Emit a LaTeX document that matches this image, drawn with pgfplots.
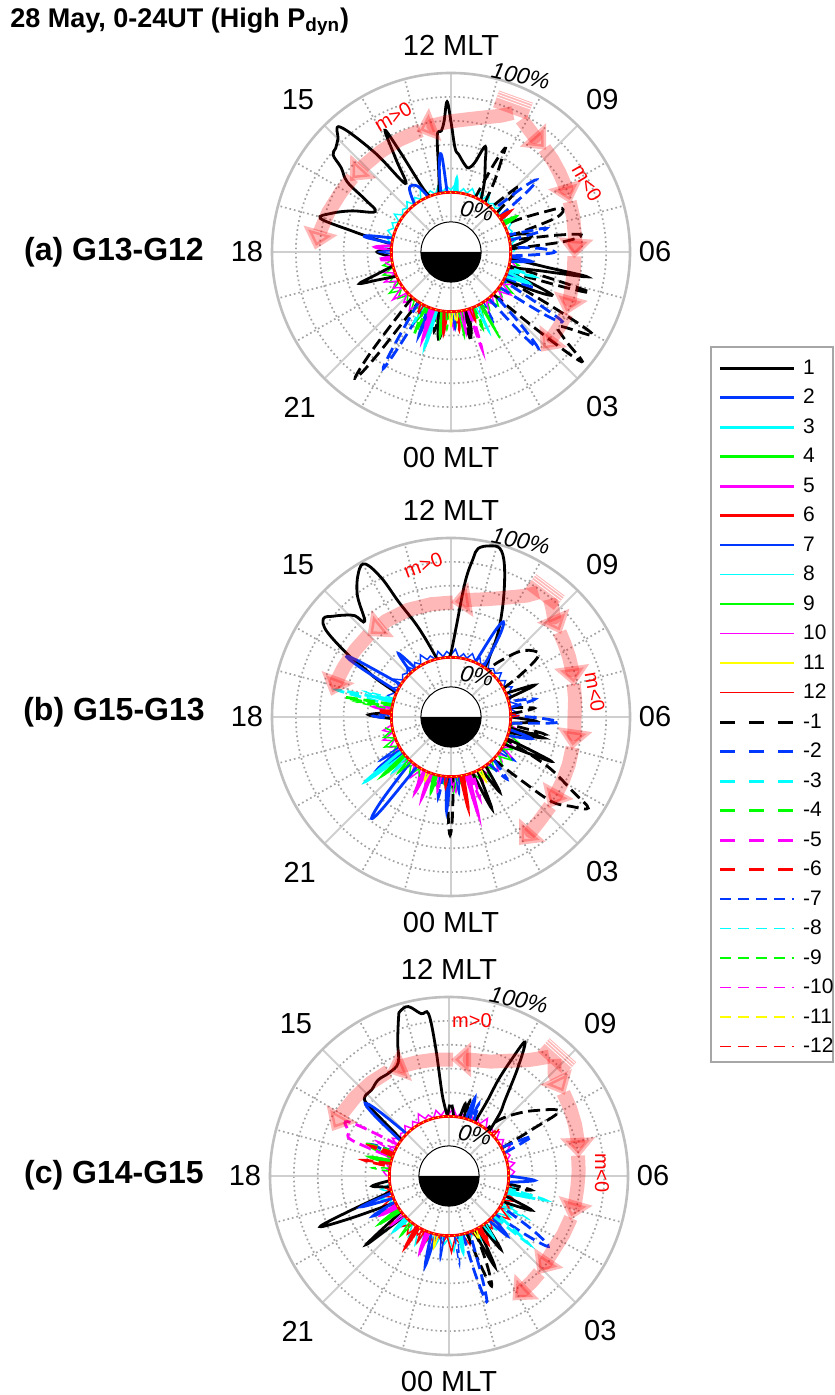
\documentclass[border=0pt]{standalone}
\usepackage{pgfplots}
\pgfplotsset{compat=1.18}
\usepackage{fontspec}
\setmainfont{Liberation Sans}
\usetikzlibrary{arrows.meta}

\definecolor{mblue}{rgb}{0,0.22,1}
\definecolor{mcyan}{rgb}{0,1,1}
\definecolor{mgreen}{rgb}{0,1,0}
\definecolor{mmag}{rgb}{1,0,1}
\definecolor{mred}{rgb}{1,0,0}
\definecolor{myel}{rgb}{1,1,0}

\tikzset{
  thk/.style={line width=1.4pt},
  thn/.style={line width=0.75pt},
  dthk/.style={line width=1.4pt,dash pattern=on 6pt off 2.8pt},
  dthn/.style={line width=0.75pt,dash pattern=on 4.5pt off 2.5pt},
  p1/.style={black,thk}, p2/.style={mblue,thk}, p3/.style={mcyan,thk},
  p4/.style={mgreen,thk}, p5/.style={mmag,thk}, p6/.style={mred,thk},
  p7/.style={mblue,thn}, p8/.style={mcyan,thn}, p9/.style={mgreen,thn},
  p10/.style={mmag,thn}, p11/.style={myel,thn}, p12/.style={mred,thn},
  n1/.style={black,dthk}, n2/.style={mblue,dthk}, n3/.style={mcyan,dthk},
  n4/.style={mgreen,dthk}, n5/.style={mmag,dthk}, n6/.style={mred,dthk},
  n7/.style={mblue,dthn}, n8/.style={mcyan,dthn}, n9/.style={mgreen,dthn},
  n10/.style={mmag,dthn}, n11/.style={myel,dthn}, n12/.style={mred,dthn},
  lgk/.style={dash pattern=on 7.5pt off 7pt},
  lgn/.style={dash pattern=on 5.5pt off 3.5pt},
  arr/.style={draw=red,opacity=0.28,line width=7pt,line join=round,-{Triangle[width=17pt,length=10pt]}},
}
% data are (MLT [h], value [%]); 0% sits on the inner ring, 100% on the outer circle
\pgfplotsset{
  pol/.style={filter point/.code={%
    \pgfmathparse{(\pgfkeysvalueof{/data point/y}+50)/150*cos(15*(\pgfkeysvalueof{/data point/x}-6))}\let\polX\pgfmathresult
    \pgfmathparse{(\pgfkeysvalueof{/data point/y}+50)/150*sin(15*(\pgfkeysvalueof{/data point/x}-6))}\let\polY\pgfmathresult
    \pgfkeyslet{/data point/x}\polX
    \pgfkeyslet{/data point/y}\polY}},
  panel/.style={anchor=center,hide axis,x=89.5pt,y=89.5pt,
    xmin=-1.3,xmax=1.3,ymin=-1.3,ymax=1.3,clip=false},
}
\newcommand\lb[2]{\addplot[#1,pol,forget plot,smooth,tension=0.62] coordinates {#2};}

% small fluctuations near the 0% ring
\newcommand\zzA[1]{\addplot[#1,pol,forget plot] coordinates {(18.5,0) (18.75,8) (19,1) (19.25,10) (19.5,2) (19.75,7) (20,0) (20.25,12) (20.5,3) (20.75,9) (21,1) (21.25,6) (21.5,0) (21.75,11) (22,2) (22.25,14) (22.5,1) (22.75,8) (23,3) (23.25,10) (23.5,0) (23.75,7) (24,2) (24.25,13) (24.5,1) (24.75,9) (25,0) (25.25,6) (25.5,2) (25.75,11) (26,1) (26.25,8) (26.5,0) (26.75,10) (27,3) (27.25,7) (27.5,1) (27.75,12) (28,0) (28.25,9) (28.5,2) (28.75,6) (29,1) (29.25,8) (29.5,0)};}
\newcommand\zzB[1]{\addplot[#1,pol,forget plot] coordinates {(18.625,6) (18.875,1) (19.125,9) (19.375,0) (19.625,11) (19.875,2) (20.125,7) (20.375,1) (20.625,13) (20.875,0) (21.125,8) (21.375,3) (21.625,10) (21.875,1) (22.125,6) (22.375,0) (22.625,12) (22.875,2) (23.125,9) (23.375,1) (23.625,7) (23.875,0) (24.125,14) (24.375,2) (24.625,8) (24.875,1) (25.125,10) (25.375,0) (25.625,6) (25.875,3) (26.125,11) (26.375,1) (26.625,7) (26.875,0) (27.125,9) (27.375,2) (27.625,12) (27.875,1) (28.125,8) (28.375,0) (28.625,10) (28.875,1) (29.125,6) (29.375,2) (29.625,0)};}
\newcommand\zzC[1]{\addplot[#1,pol,forget plot] coordinates {(6,2) (6.25,5) (6.5,1) (6.75,6) (7,0) (7.25,4) (7.5,2) (7.75,7) (8,1) (8.25,5) (8.5,0) (8.75,6) (9,2) (9.25,4) (9.5,1) (9.75,8) (10,0) (10.25,5) (10.5,2) (10.75,6) (11,1) (11.25,4) (11.5,0) (11.75,7) (12,2) (12.25,5) (12.5,1) (12.75,6) (13,0) (13.25,4) (13.5,2) (13.75,8) (14,1) (14.25,5) (14.5,0) (14.75,6) (15,2) (15.25,4) (15.5,1) (15.75,7) (16,0) (16.25,5) (16.5,2) (16.75,6) (17,1) (17.25,4) (17.5,0) (17.75,5) (18,2)};}

\newcommand\polgrid[1]{%
\begin{scope}[shift={#1},x=89.5pt,y=89.5pt]
 \foreach \r in {0.0667,0.2,0.4667,0.6,0.7333,0.8667}
   \draw[gray!72,line width=0.85pt,dash pattern=on 0.85pt off 1.45pt] (0,0) circle[radius=\r];
 \foreach \a in {15,30,60,75,105,120,150,165,195,210,240,255,285,300,330,345}
   \draw[gray!72,line width=0.85pt,dash pattern=on 0.85pt off 1.45pt] (0,0) -- (\a:1);
 \foreach \a in {0,45,...,315}
   \draw[gray!38,line width=1pt] (0,0) -- (\a:1);
 \draw[gray!50,line width=1.3pt] (0,0) circle[radius=1];
\end{scope}}

\newcommand\pollabels[1]{%
\begin{scope}[shift={#1},x=89.5pt,y=89.5pt]
 \draw[red,line width=1.4pt] (0,0) circle[radius=0.3333];
 \draw[yellow,line width=0.5pt,dash pattern=on 0.6pt off 2pt] (0,0) circle[radius=0.3333];
 \fill[white] (0,0) circle[radius=0.168];
 \fill[black] (-0.168,0) arc[start angle=180,end angle=360,radius=0.168] -- cycle;
 \draw[black,line width=0.5pt] (0,0) circle[radius=0.168];
 \begin{scope}[every node/.style={font=\fontsize{14.5}{17}\selectfont,inner sep=0pt}]
 \node at (0,1.156) {12 MLT}; \node at (0,-1.15) {00 MLT};
 \node at (-1.14,0) {18}; \node at (1.14,0) {06};
 \node at (-0.855,0.85) {15}; \node at (0.845,0.85) {09};
 \node at (-0.845,-0.87) {21}; \node at (0.845,-0.865) {03};
 \node[font=\itshape\fontsize{11.5}{13}\selectfont,rotate=-12] at (0.39,0.983) {100\%};
 \node[font=\itshape\fontsize{11.5}{13}\selectfont,rotate=-12] at (0.145,0.229) {0\%};
 \end{scope}
\end{scope}}

\newcommand\startbox[2]{%
 \begin{scope}[shift={#1},rotate=#2]
 \fill[red,opacity=0.28] (-0.1,-0.05) rectangle (0.1,0.05);
 \foreach \yy in {0.012,0.027,0.042} \draw[white,line width=0.4pt] (-0.1,\yy)--(0.1,\yy);
 \end{scope}}
\newcommand\mlab[3]{\node[red,font=\fontsize{10}{12}\selectfont,inner sep=0pt,rotate=#2] at #1 {#3};}

\begin{document}
\begin{tikzpicture}
\path (0,0) rectangle (417pt,697.5pt);

\node[anchor=west,inner sep=0pt,font=\bfseries\fontsize{13.5}{16}\selectfont] at (5pt,686.5pt) {28 May, 0-24UT (High P\textsubscript{dyn})};
\node[font=\bfseries\fontsize{16}{19}\selectfont] at (57pt,571.5pt) {(a) G13-G12};
\node[font=\bfseries\fontsize{16}{19}\selectfont] at (57pt,341.5pt) {(b) G15-G13};
\node[font=\bfseries\fontsize{16}{19}\selectfont] at (57pt,110pt) {(c) G14-G15};

% ================= panel (a) =================
\polgrid{(225.5pt,571.5pt)}
\begin{axis}[panel,at={(225.5pt,571.5pt)}]
\zzA{p9} \zzB{p10} \zzC{p8}
\lb{p1}{(10.0,0) (10.3,15) (10.6,30) (10.8,43) (11.0,28) (11.2,22) (11.4,24) (11.7,32) (11.85,37) (12.0,59) (12.1,76) (12.2,60) (12.3,52) (12.45,48) (12.6,15) (12.8,0)}
\lb{p1}{(13.4,0) (13.6,10) (13.8,45) (13.9,66) (14.05,40) (14.25,19) (14.5,55) (14.77,90) (15.0,84) (15.2,80) (15.37,78) (15.5,66) (15.73,55) (15.9,35) (16.13,22) (16.5,40) (16.8,55) (17.04,63) (17.2,35) (17.35,15) (17.5,0)}
\lb{p1}{(18.9,0) (19.15,18) (19.27,31) (19.4,15) (19.6,0)}
\lb{p1}{(17.8,0) (18.0,12) (18.3,0)}
\lb{p1}{(5.0,0) (5.2,25) (5.31,66) (5.4,30) (5.6,0)}
\lb{p1}{(4.2,0) (4.35,30) (4.47,42) (4.6,20) (4.75,0)}
\lb{p1}{(6.3,0) (6.6,15) (6.85,18) (7.1,0)}
\lb{p1}{(23.2,0) (23.4,20) (23.5,23) (23.6,10) (23.7,0)}
\lb{p1}{(0.8,0) (0.95,19) (1.1,0)}
\lb{n1}{(9.7,0) (9.9,20) (10.1,40) (10.17,48) (10.27,30) (10.4,0)}
\lb{n1}{(8.7,0) (8.85,22) (8.95,28) (9.1,10) (9.2,0)}
\lb{n1}{(7.0,0) (7.2,42) (7.43,50) (7.55,35) (7.7,15) (7.8,0)}
\lb{n1}{(6.2,0) (6.35,45) (6.5,60) (6.6,40) (6.75,0)}
\lb{n1}{(4.75,0) (4.85,50) (4.92,71) (5.0,40) (5.1,0)}
\lb{n1}{(3.0,0) (3.2,50) (3.33,93) (3.5,70) (3.7,60) (3.98,88) (4.1,50) (4.25,0)}
\lb{n1}{(21.3,0) (21.42,55) (21.52,83) (21.62,58) (21.8,0)}
\lb{n1}{(0.7,0) (0.85,27) (1.0,0)}
\lb{n1}{(23.0,0) (23.2,18) (23.35,0)}
\lb{p2}{(12.25,0) (12.35,28) (12.43,32) (12.55,18) (12.65,0)}
\lb{p2}{(13.5,0) (13.8,12) (14.2,14) (14.5,0)}
\lb{p2}{(17.1,0) (17.25,20) (17.35,22) (17.45,0)}
\lb{p2}{(22.5,0) (22.6,25) (22.7,0)}
\lb{p2}{(5.4,0) (5.55,18) (5.7,0)}
\lb{n2}{(8.4,0) (8.55,30) (8.67,44) (8.8,30) (9.0,0)}
\lb{n2}{(6.75,0) (6.85,25) (6.95,31) (7.1,0)}
\lb{n2}{(5.75,0) (5.9,25) (6.0,37) (6.15,25) (6.3,0)}
\lb{n2}{(3.6,0) (3.75,45) (3.87,60) (3.95,35) (4.1,0)}
\lb{n2}{(2.6,0) (2.72,40) (2.81,59) (2.92,35) (3.05,0)}
\lb{n2}{(21.8,0) (21.92,45) (21.99,63) (22.08,40) (22.25,0)}
\lb{n2}{(4.3,0) (4.45,25) (4.55,0)}
\lb{p3}{(4.4,0) (4.55,20) (4.7,0)} \lb{p3}{(22.9,0) (23.0,28) (23.1,0)} \lb{p3}{(11.6,0) (11.7,12) (11.8,0)}
\lb{n3}{(22.85,0) (22.96,31) (23.05,0)} \lb{n3}{(4.8,0) (4.9,22) (5.0,0)}
\lb{p4}{(23.4,0) (23.5,20) (23.6,0)} \lb{p4}{(7.8,0) (7.9,12) (8.0,0)}
\lb{n4}{(22.3,0) (22.4,25) (22.5,0)} \lb{n4}{(1.4,0) (1.5,18) (1.6,0)}
\lb{p5}{(17.6,0) (17.75,14) (17.9,0)} \lb{p5}{(22.7,0) (22.8,27) (22.9,0)}
\lb{n5}{(1.1,0) (1.18,35) (1.28,0)} \lb{n5}{(18.3,0) (18.4,12) (18.5,0)}
\lb{p6}{(23.55,0) (23.65,18) (23.75,0)} \lb{p6}{(8.2,0) (8.3,10) (8.4,0)}
\lb{n6}{(0.3,0) (0.4,15) (0.5,0)}
\lb{p7}{(0.1,0) (0.2,15) (0.3,0)} \lb{p7}{(17.9,0) (18.0,10) (18.1,0)}
\lb{n7}{(2.0,0) (2.1,20) (2.2,0)}
\lb{p8}{(1.6,0) (1.7,25) (1.8,0)}
\lb{n8}{(22.05,0) (22.15,20) (22.25,0)}
\lb{p9}{(1.9,0) (1.97,33) (2.05,0)} \lb{p9}{(0.5,0) (0.6,22) (0.7,0)}
\lb{n9}{(23.7,0) (23.8,15) (23.9,0)}
\lb{p10}{(0.6,0) (0.7,20) (0.8,0)}
\lb{n10}{(22.6,0) (22.7,15) (22.8,0)}
\lb{p11}{(23.9,0) (24.0,12) (24.1,0)}
\lb{n11}{(0.2,0) (0.3,10) (0.4,0)}
\lb{p12}{(1.2,0) (1.3,12) (1.4,0)}
\lb{n12}{(22.0,0) (22.1,10) (22.2,0)}
\end{axis}
\pollabels{(225.5pt,571.5pt)}
\begin{scope}[shift={(225.5pt,571.5pt)},x=89.5pt,y=89.5pt]
\draw[arr] plot coordinates {(66:0.85) (70:0.81) (75:0.78) (82:0.75) (90:0.73) (98:0.715) (106:0.70)};
\draw[arr] plot coordinates {(104:0.70) (115:0.69) (125:0.685) (135:0.685) (145:0.69)};
\draw[arr] plot coordinates {(143:0.69) (152:0.70) (162:0.72) (171:0.74) (179:0.76)};
\draw[arr] plot coordinates {(62:0.84) (58:0.815) (54:0.795) (47:0.78)};
\draw[arr] plot coordinates {(48:0.78) (42:0.765) (36:0.75) (29:0.735) (22:0.72)};
\draw[arr] plot coordinates {(23:0.72) (16:0.71) (10:0.70) (3:0.695) (-3:0.69)};
\draw[arr] plot coordinates {(-2:0.69) (-9:0.695) (-15:0.70) (-22:0.715) (-29:0.73)};
\draw[arr] plot coordinates {(-28:0.73) (-34:0.735) (-40:0.74) (-48:0.75)};
\startbox{(0.346,0.821)}{-20}
\mlab{(-0.324,0.754)}{30}{m>0}
\mlab{(0.76,0.385)}{-60}{m<0}
\end{scope}

% ================= panel (b) =================
\polgrid{(225.5pt,339pt)}
\begin{axis}[panel,at={(225.5pt,339pt)}]
\zzA{p10} \zzB{p9} \zzC{p7}
\lb{p1}{(9.7,0) (9.85,12) (10.07,32) (10.41,59) (10.71,85) (10.92,97) (11.15,97) (11.39,93) (11.47,84) (11.6,64) (11.77,27) (11.95,7) (12.1,0)}
\lb{p1}{(12.9,0) (13.22,20) (13.4,35) (13.63,56) (13.77,80) (13.95,97) (14.17,94) (14.5,79) (14.8,58) (14.9,67) (15.07,73) (15.3,80) (15.49,85) (15.7,76) (15.96,47) (16.05,33) (16.2,20) (16.4,0)}
\lb{p1}{(17.7,0) (17.9,19) (18.1,0)}
\lb{p1}{(7.2,0) (7.39,25) (7.55,0)}
\lb{p1}{(4.2,0) (4.41,42) (4.6,0)}
\lb{p1}{(5.0,0) (5.15,30) (5.3,0)}
\lb{p1}{(5.6,0) (5.8,22) (6.0,0)}
\lb{p1}{(1.4,0) (1.6,34) (1.75,0)}
\lb{p1}{(2.0,0) (2.2,25) (2.35,0)}
\lb{n1}{(7.9,0) (8.1,20) (8.3,38) (8.5,40) (8.9,30) (9.3,10) (9.45,0)}
\lb{n1}{(3.0,0) (3.2,30) (3.33,60) (3.55,75) (3.76,88) (3.9,70) (4.2,40) (4.5,0)}
\lb{n1}{(5.1,0) (5.3,30) (5.5,0)}
\lb{n1}{(6.2,0) (6.4,20) (6.6,0)}
\lb{n1}{(23.8,0) (23.9,35) (23.97,49) (24.05,35) (24.15,0)}
\lb{p2}{(9.8,0) (9.95,30) (10.08,41) (10.2,30) (10.4,0)}
\lb{p2}{(15.8,0) (15.92,40) (16.0,51) (16.1,35) (16.3,0)}
\lb{p2}{(14.4,0) (14.64,19) (14.8,0)}
\lb{p2}{(21.2,0) (21.35,40) (21.46,58) (21.55,45) (21.7,0)}
\lb{p2}{(23.7,0) (23.82,29) (23.95,0)}
\lb{p2}{(4.8,0) (5.0,20) (5.2,0)}
\lb{p2}{(20.2,0) (20.35,25) (20.5,0)}
\lb{n2}{(5.6,0) (5.75,30) (5.83,40) (5.95,25) (6.1,0)}
\lb{n2}{(6.6,0) (6.8,22) (7.0,0)}
\lb{n2}{(2.6,0) (2.8,20) (3.0,0)}
\lb{n2}{(17.8,0) (17.95,15) (18.1,0)}
\lb{n2}{(23.3,0) (23.4,18) (23.5,0)}
\lb{p3}{(20.3,0) (20.47,40) (20.6,0)} \lb{p3}{(16.9,0) (17.0,15) (17.1,0)}
\lb{n3}{(16.95,0) (17.11,48) (17.25,0)}
\lb{p4}{(20.6,0) (20.7,25) (20.8,0)} \lb{p4}{(22.9,0) (23.0,15) (23.1,0)}
\lb{n4}{(17.2,0) (17.3,40) (17.4,0)}
\lb{p5}{(22.6,0) (22.68,22) (22.76,0)} \lb{p5}{(0.95,0) (1.04,35) (1.12,0)} \lb{p5}{(22.2,0) (22.3,20) (22.4,0)}
\lb{n5}{(17.4,0) (17.5,15) (17.6,0)} \lb{n5}{(1.2,0) (1.3,22) (1.4,0)}
\lb{p6}{(0.6,0) (0.71,28) (0.8,0)}
\lb{n6}{(17.6,0) (17.7,12) (17.8,0)}
\lb{p7}{(20.0,0) (20.1,20) (20.2,0)} \lb{p7}{(0.3,0) (0.4,15) (0.5,0)}
\lb{n7}{(3.6,0) (3.7,15) (3.8,0)}
\lb{p8}{(20.8,0) (20.9,18) (21.0,0)}
\lb{n8}{(16.8,0) (16.9,25) (17.0,0)}
\lb{p9}{(21.0,0) (21.1,15) (21.2,0)}
\lb{n9}{(17.3,0) (17.4,30) (17.5,0)}
\lb{p10}{(23.2,0) (23.3,14) (23.4,0)}
\lb{n10}{(0.0,0) (0.1,12) (0.2,0)}
\lb{p11}{(1.8,0) (1.9,12) (2.0,0)}
\lb{n11}{(22.4,0) (22.5,10) (22.6,0)}
\lb{p12}{(23.6,0) (23.7,10) (23.8,0)}
\lb{n12}{(6.0,0) (6.1,8) (6.2,0)}
\end{axis}
\pollabels{(225.5pt,339pt)}
\begin{scope}[shift={(225.5pt,339pt)},x=89.5pt,y=89.5pt]
\draw[arr] plot coordinates {(55:0.85) (58:0.80) (62:0.76) (68:0.715) (75:0.68) (82:0.66) (90:0.64)};
\draw[arr] plot coordinates {(89:0.64) (100:0.64) (112:0.645) (124:0.648) (136:0.65)};
\draw[arr] plot coordinates {(135:0.65) (145:0.653) (155:0.66) (163:0.67) (170:0.68)};
\draw[arr] plot coordinates {(50:0.86) (47:0.83) (44:0.80) (37:0.77)};
\draw[arr] plot coordinates {(38:0.77) (33:0.755) (27:0.74) (21:0.725) (14:0.71)};
\draw[arr] plot coordinates {(15:0.71) (8:0.70) (0:0.69) (-8:0.695) (-15:0.70)};
\draw[arr] plot coordinates {(-14:0.70) (-22:0.71) (-30:0.72) (-37:0.73) (-43:0.745)};
\draw[arr] plot coordinates {(-42:0.745) (-49:0.76) (-55:0.78) (-62:0.81)};
\startbox{(0.525,0.698)}{-37}
\mlab{(-0.156,0.849)}{20}{m>0}
\mlab{(0.804,0.14)}{-80}{m<0}
\end{scope}

% ================= panel (c) =================
\polgrid{(224.5pt,109.5pt)}
\begin{axis}[panel,at={(224.5pt,109.5pt)}]
\zzA{p8} \zzB{p12} \zzC{p10}
\lb{p1}{(12.1,0) (12.25,10) (12.33,22) (12.4,60) (12.48,87) (12.65,88) (12.9,96) (13.1,94) (13.17,90) (13.4,70) (13.61,54) (14.0,50) (14.43,50) (14.8,47) (15.1,47) (15.24,42) (15.35,20) (15.5,0)}
\lb{p1}{(9.2,0) (9.4,18) (9.57,29) (9.84,58) (10.03,79) (10.12,60) (10.19,40) (10.2,20) (10.3,0)}
\lb{p1}{(19.0,0) (19.3,40) (19.43,66) (19.55,40) (19.75,0)}
\lb{p1}{(20.45,0) (20.6,30) (20.66,38) (20.8,0)}
\lb{p1}{(1.6,0) (1.79,35) (1.95,0)}
\lb{p1}{(2.2,0) (2.35,25) (2.5,0)}
\lb{p1}{(4.3,0) (4.5,25) (4.7,0)}
\lb{p1}{(11.0,0) (11.15,12) (11.3,0)}
\lb{p1}{(18.3,0) (18.5,15) (18.7,0)}
\lb{n1}{(7.85,0) (7.95,30) (8.03,57) (8.5,40) (8.9,25) (9.24,12) (9.4,0)}
\lb{n1}{(1.15,0) (1.3,30) (1.41,49) (1.55,30) (1.7,0)}
\lb{n1}{(11.7,0) (11.9,12) (12.1,0)}
\lb{n1}{(10.8,0) (10.95,15) (11.1,0)}
\lb{n1}{(5.2,0) (5.35,20) (5.5,0)}
\lb{p2}{(10.65,0) (10.77,19) (10.9,0)}
\lb{p2}{(15.0,0) (15.15,30) (15.27,43) (15.4,30) (15.6,0)}
\lb{p2}{(19.1,0) (19.29,28) (19.45,0)}
\lb{p2}{(19.7,0) (19.85,22) (20.0,0)}
\lb{p2}{(22.85,0) (23.01,28) (23.15,0)}
\lb{p2}{(5.6,0) (5.8,22) (6.0,0)}
\lb{p2}{(2.8,0) (2.95,20) (3.1,0)}
\lb{n2}{(0.9,0) (1.0,35) (1.11,60) (1.2,40) (1.35,0)}
\lb{n2}{(3.35,0) (3.5,30) (3.64,52) (3.8,35) (4.0,0)}
\lb{n2}{(7.5,0) (7.7,27) (7.9,0)}
\lb{n2}{(10.4,0) (10.5,15) (10.6,0)}
\lb{n2}{(16.4,0) (16.5,18) (16.6,0)}
\lb{p3}{(4.9,0) (5.0,18) (5.1,0)} \lb{p3}{(20.9,0) (21.0,15) (21.1,0)} \lb{p3}{(0.6,0) (0.7,15) (0.8,0)}
\lb{n3}{(4.9,0) (5.06,33) (5.2,0)} \lb{n3}{(3.2,0) (3.31,37) (3.45,0)}
\lb{p4}{(17.0,0) (17.1,18) (17.2,0)} \lb{p4}{(20.2,0) (20.3,20) (20.4,0)}
\lb{n4}{(16.4,0) (16.6,25) (16.8,0)}
\lb{p5}{(19.9,0) (20.0,15) (20.1,0)} \lb{p5}{(22.5,0) (22.6,18) (22.7,0)}
\lb{n5}{(15.9,0) (16.05,35) (16.16,48) (16.4,42) (16.65,37) (16.8,0)}
\lb{p6}{(21.8,0) (21.9,20) (22.0,0)} \lb{p6}{(1.9,0) (2.0,15) (2.1,0)}
\lb{n6}{(16.5,0) (16.6,20) (16.7,0)} \lb{n6}{(17.2,0) (17.3,22) (17.4,0)}
\lb{p7}{(23.5,0) (23.6,20) (23.7,0)}
\lb{n7}{(0.35,0) (0.45,25) (0.55,0)}
\lb{p8}{(2.3,0) (2.4,15) (2.5,0)}
\lb{n8}{(4.0,0) (4.1,25) (4.2,0)}
\lb{p9}{(21.3,0) (21.4,15) (21.5,0)}
\lb{n9}{(17.5,0) (17.6,15) (17.7,0)}
\lb{p10}{(20.6,0) (20.7,14) (20.8,0)}
\lb{n10}{(16.2,0) (16.3,20) (16.4,0)}
\lb{p11}{(23.1,0) (23.2,12) (23.3,0)}
\lb{n11}{(1.6,0) (1.7,10) (1.8,0)}
\lb{p12}{(22.2,0) (22.3,12) (22.4,0)}
\lb{n12}{(8.8,0) (8.9,8) (9.0,0)}
\end{axis}
\pollabels{(224.5pt,109.5pt)}
\begin{scope}[shift={(224.5pt,109.5pt)},x=89.5pt,y=89.5pt]
\draw[arr] plot coordinates {(50:0.87) (53:0.82) (56:0.78) (62:0.73) (70:0.68) (80:0.66) (89:0.65)};
\draw[arr] plot coordinates {(88:0.65) (97:0.655) (105:0.66) (113:0.668) (121:0.675)};
\draw[arr] plot coordinates {(120:0.675) (130:0.68) (140:0.685) (150:0.692) (159:0.70)};
\draw[arr] plot coordinates {(48:0.88) (46:0.85) (44:0.82) (35:0.79)};
\draw[arr] plot coordinates {(36:0.79) (29:0.775) (22:0.76) (15:0.745) (8:0.73)};
\draw[arr] plot coordinates {(9:0.73) (2:0.725) (-5:0.72) (-12:0.72) (-20:0.72)};
\draw[arr] plot coordinates {(-19:0.72) (-27:0.717) (-35:0.715) (-42:0.725) (-48:0.74)};
\draw[arr] plot coordinates {(-47:0.74) (-52:0.75) (-57:0.76) (-63:0.78)};
\startbox{(0.603,0.665)}{-42}
\mlab{(0.128,0.866)}{0}{m>0}
\mlab{(0.855,0.017)}{-90}{m<0}
\end{scope}

% ================= legend =================
\draw[gray!70,line width=0.6pt] (355.5pt,524pt) rectangle (416.5pt,166.5pt);
\begin{axis}[at={(359pt,521pt)},anchor=north west,hide axis,scale only axis,
  width=20pt,height=20pt,xmin=0,xmax=1,ymin=0,ymax=1,
  legend style={at={(0,1)},anchor=north west,draw=none,fill=none,
    inner xsep=0pt,inner ysep=0pt,row sep=0pt,column sep=3pt,
    font=\fontsize{10.5}{12.5}\selectfont,
    nodes={inner sep=1pt,text height=9.5pt,text depth=3.25pt,anchor=west}},
  legend cell align=left,
  legend image code/.code={\draw[#1] (0pt,0pt) -- (37pt,0pt);}]
\addlegendimage{p1}\addlegendentry{1}
\addlegendimage{p2}\addlegendentry{2}
\addlegendimage{p3}\addlegendentry{3}
\addlegendimage{p4}\addlegendentry{4}
\addlegendimage{p5}\addlegendentry{5}
\addlegendimage{p6}\addlegendentry{6}
\addlegendimage{p7}\addlegendentry{7}
\addlegendimage{p8}\addlegendentry{8}
\addlegendimage{p9}\addlegendentry{9}
\addlegendimage{p10}\addlegendentry{10}
\addlegendimage{p11}\addlegendentry{11}
\addlegendimage{p12}\addlegendentry{12}
\addlegendimage{n1,lgk}\addlegendentry{-1}
\addlegendimage{n2,lgk}\addlegendentry{-2}
\addlegendimage{n3,lgk}\addlegendentry{-3}
\addlegendimage{n4,lgk}\addlegendentry{-4}
\addlegendimage{n5,lgk}\addlegendentry{-5}
\addlegendimage{n6,lgk}\addlegendentry{-6}
\addlegendimage{n7,lgn}\addlegendentry{-7}
\addlegendimage{n8,lgn}\addlegendentry{-8}
\addlegendimage{n9,lgn}\addlegendentry{-9}
\addlegendimage{n10,lgn}\addlegendentry{-10}
\addlegendimage{n11,lgn}\addlegendentry{-11}
\addlegendimage{n12,lgn}\addlegendentry{-12}
\end{axis}

\pgfresetboundingbox
\path (0,0) rectangle (417pt,697.5pt);
\end{tikzpicture}
\end{document}
